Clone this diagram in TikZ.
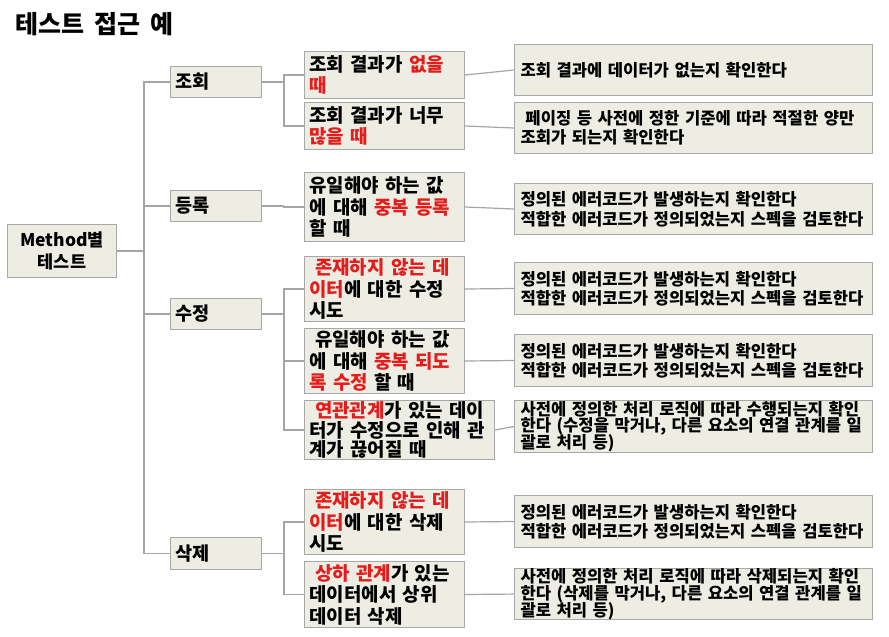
\documentclass[tikz,border=0pt]{standalone}
\usepackage{fontspec}
\setmainfont{Noto Sans CJK KR}[WordSpace=1.8]
\definecolor{boxfill}{RGB}{238,237,227}
\definecolor{boxline}{RGB}{168,168,168}
\definecolor{linecol}{RGB}{165,165,165}
\definecolor{hl}{RGB}{228,28,28}
\newcommand\redtxt[1]{\textcolor{hl}{#1}}
\newcommand\lead{\hspace*{0.3em}}
\tikzset{
  box/.style={draw=boxline, fill=boxfill, line width=1pt, anchor=north west,
    inner xsep=5pt, inner ysep=0pt, align=left,
    execute at begin node={\lineskiplimit=-30pt},
    font=\bfseries\fontsize{18.9}{21.5}\selectfont},
  rootbox/.style={box, align=center, minimum width=109pt, minimum height=53pt, text width=99pt,
    font=\bfseries\fontsize{17.5}{22}\selectfont},
  lvone/.style={box, minimum width=91pt, text width=81pt,
    font=\bfseries\fontsize{18.6}{21.5}\selectfont},
  lvtwo/.style={box, minimum width=160pt, text width=150pt},
  lvthree/.style={box, minimum width=358pt, text width=346pt, inner xsep=6pt,
    font=\bfseries\fontsize{16.6}{19.5}\selectfont},
  lvthreetight/.style={lvthree, font=\bfseries\fontsize{16.6}{16.8}\selectfont},
  conn/.style={draw=linecol, line width=1.2pt}
}
\begin{document}
\begin{tikzpicture}[x=1pt, y=-1pt]
\useasboundingbox (0,0) rectangle (889,637);
\fill[white] (0,0) rectangle (889,637);

\node[anchor=base west, inner sep=0pt, font=\bfseries\fontsize{25}{30}\selectfont] (title) at (15,33.5) {테스트 접근 예};

% root
\node[rootbox] (root) at (7,224) {Method별\\테스트};

% level 1
\node[lvone, minimum height=31pt] (jh) at (170,66) {조회};
\node[lvone, minimum height=31pt] (dr) at (170,190) {등록};
\node[lvone, minimum height=31pt] (sj) at (170,298) {수정};
\node[lvone, minimum height=32pt] (sk) at (170,537) {삭제};

% level 2
\node[lvtwo, minimum height=47pt] (a1) at (304,51) {조회~결과가~\redtxt{없을}\\\redtxt{때}};
\node[lvtwo, minimum height=47pt] (a2) at (304,102) {조회~결과가~너무\\\redtxt{많을~때}};
\node[lvtwo, minimum height=69pt] (a3) at (304,172) {유일해야~하는~값\\에~대해~\redtxt{중복~등록}\\할~때};
\node[lvtwo, minimum height=65pt] (a4) at (304,256) {\lead\redtxt{존재하지~않는~데}\\\redtxt{이터}에~대한~수정\\시도};
\node[lvtwo, minimum height=65pt] (a5) at (304,328) {\lead 유일해야~하는~값\\에~대해~\redtxt{중복~되도}\\\redtxt{록~수정}~할~때};
\node[lvtwo, minimum width=190pt, text width=180pt, minimum height=59pt, font=\bfseries\fontsize{18.9}{19.7}\selectfont] (a6) at (304,400) {\lead\redtxt{연관관계}가~있는~데이\\터가~수정으로~인해~관\\계가~끊어질~때};
\node[lvtwo, minimum height=65pt] (a7) at (304,489) {\lead\redtxt{존재하지~않는~데}\\\redtxt{이터}에~대한~삭제\\시도};
\node[lvtwo, minimum height=66pt] (a8) at (304,561) {\lead\redtxt{상하~관계}가~있는\\데이터에서~상위\\데이터~삭제};

% level 3
\node[lvthree, minimum height=51pt] (b1) at (514,44) {조회~결과에~데이터가~없는지~확인한다};
\node[lvthree, minimum height=51pt] (b2) at (514,102) {\lead 페이징~등~사전에~정한~기준에~따라~적절한~양만\\조회가~되는지~확인한다};
\node[lvthree, minimum height=51pt] (b3) at (514,183) {정의된~에러코드가~발생하는지~확인한다\\적합한~에러코드가~정의되었는지~스펙을~검토한다};
\node[lvthree, minimum height=52pt] (b4) at (514,262) {정의된~에러코드가~발생하는지~확인한다\\적합한~에러코드가~정의되었는지~스펙을~검토한다};
\node[lvthree, minimum height=52pt] (b5) at (514,334) {정의된~에러코드가~발생하는지~확인한다\\적합한~에러코드가~정의되었는지~스펙을~검토한다};
\node[lvthreetight, minimum height=52pt] (b6) at (514,400) {사전에~정의한~처리~로직에~따라~수행되는지~확인\\한다~(수정을~막거나,~다른~요소의~연결~관계를~일\\괄로~처리~등)};
\node[lvthree, minimum height=52pt] (b7) at (514,495) {정의된~에러코드가~발생하는지~확인한다\\적합한~에러코드가~정의되었는지~스펙을~검토한다};
\node[lvthreetight, minimum height=51pt] (b8) at (514,568) {사전에~정의한~처리~로직에~따라~삭제되는지~확인\\한다~(삭제를~막거나,~다른~요소의~연결~관계를~일\\괄로~처리~등)};

% root trunk
\coordinate (tr) at ([xshift=27pt]root.east);
\draw[conn] (root.east) -- (tr);
\draw[conn] (jh.west) -| (tr);
\draw[conn] (dr.west) -| (tr);
\draw[conn] (sj.west) -| (tr);
\draw[conn] (sk.west) -| (tr);

% level 1 -> level 2 brackets
\coordinate (bj) at ([xshift=22pt]jh.east);
\draw[conn] (jh.east) -- (bj);
\draw[conn] (a1.west) -| (bj);
\draw[conn] (a2.west) -| (bj);

\coordinate (bd) at ([xshift=22pt]dr.east);
\draw[conn] (dr.east) -- (bd);
\draw[conn] (a3.west) -| (bd);

\coordinate (bs) at ([xshift=22pt]sj.east);
\draw[conn] (sj.east) -- (bs);
\draw[conn] (a4.west) -| (bs);
\draw[conn] (a5.west) -| (bs);
\draw[conn] (a6.west) -| (bs);

\coordinate (bk) at ([xshift=22pt]sk.east);
\draw[conn] (sk.east) -- (bk);
\draw[conn] (a7.west) -| (bk);
\draw[conn] (a8.west) -| (bk);

% level 2 -> level 3
\draw[conn] (a1.east) -- (b1.west);
\draw[conn] (a2.east) -- (b2.west);
\draw[conn] (a3.east) -- (b3.west);
\draw[conn] (a4.east) -- (b4.west);
\draw[conn] (a5.east) -- (b5.west);
\draw[conn] (a6.east) -- (b6.west);
\draw[conn] (a7.east) -- (b7.west);
\draw[conn] (a8.east) -- (b8.west);
\end{tikzpicture}
\end{document}
